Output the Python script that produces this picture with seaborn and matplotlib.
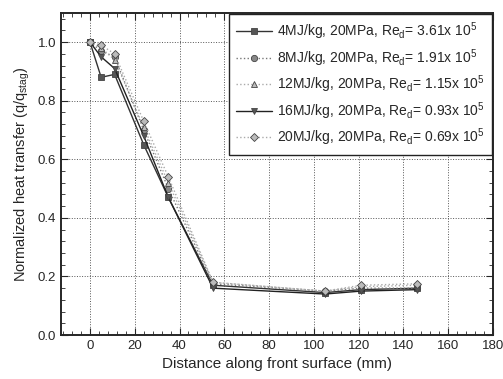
import numpy as np
import pandas as pd
import matplotlib
matplotlib.use("Agg")
import matplotlib.pyplot as plt
from matplotlib.ticker import MultipleLocator
import seaborn as sns

# Datos
distance = [0, 5, 11, 24, 35, 55, 105, 121, 146]
q_4mj = [1.0, 0.88, 0.89, 0.65, 0.47, 0.17, 0.145, 0.155, 0.16]
q_8mj = [1.0, 0.97, 0.95, 0.70, 0.50, 0.175, 0.15, 0.16, 0.16]
q_12mj = [1.0, 0.98, 0.94, 0.71, 0.52, 0.18, 0.15, 0.165, 0.17]
q_16mj = [1.0, 0.95, 0.91, 0.68, 0.47, 0.16, 0.14, 0.15, 0.155]
q_20mj = [1.0, 0.99, 0.96, 0.73, 0.54, 0.18, 0.15, 0.17, 0.175]

labels = [
    r"4MJ/kg, 20MPa, Re$_d$= 3.61x 10$^5$",
    r"8MJ/kg, 20MPa, Re$_d$= 1.91x 10$^5$",
    r"12MJ/kg, 20MPa, Re$_d$= 1.15x 10$^5$",
    r"16MJ/kg, 20MPa, Re$_d$= 0.93x 10$^5$",
    r"20MJ/kg, 20MPa, Re$_d$= 0.69x 10$^5$",
]
series = [q_4mj, q_8mj, q_12mj, q_16mj, q_20mj]

sns.set_style("ticks")
plt.rcParams['font.family'] = ['Liberation Sans', 'DejaVu Sans']
plt.rcParams['mathtext.fontset'] = 'custom'
plt.rcParams['mathtext.rm'] = 'Liberation Sans'
plt.rcParams['mathtext.it'] = 'Liberation Sans'

line_colors = ['#333333', '#777777', '#aaaaaa', '#222222', '#aaaaaa']
marker_colors = ['#555555', '#888888', '#bbbbbb', '#555555', '#bbbbbb']
dashes = ['-', ':', ':', '-', ':']
markers = ['s', 'o', '^', 'v', 'D']

fig = plt.figure(figsize=(5.03, 3.79), dpi=100)
ax = fig.add_axes([0.121, 0.116, 0.859, 0.850])

for y, lab, lc, mc, ls, mk in zip(series, labels, line_colors, marker_colors, dashes, markers):
    sns.lineplot(x=distance, y=y, ax=ax, label=lab, color=lc, linestyle=ls,
                 marker=mk, markersize=4.5, markerfacecolor=mc,
                 markeredgecolor='#444444', markeredgewidth=0.6, linewidth=1.0)

ax.set_xlim(-13, 180)
ax.set_ylim(0, 1.1)
ax.set_xticks(np.arange(0, 181, 20))
ax.set_yticks(np.arange(0, 1.01, 0.2))
ax.set_yticklabels([f"{v:.1f}" for v in np.arange(0, 1.01, 0.2)])
ax.xaxis.set_minor_locator(MultipleLocator(4))
ax.yaxis.set_minor_locator(MultipleLocator(0.04))
ax.tick_params(which='both', direction='in', top=True, right=True, labelsize=9.5)
ax.tick_params(which='major', length=5)
ax.tick_params(which='minor', length=3)
ax.grid(True, which='major', linestyle=':', color='#555555', linewidth=0.7)
for s in ax.spines.values():
    s.set_linewidth(1.4)

ax.set_xlabel("Distance along front surface (mm)", fontsize=11)
ax.set_ylabel(r"Normalized heat transfer (q/q$_{stag}$)", fontsize=10.5)

leg = ax.legend(loc='upper right', fontsize=10, frameon=True, fancybox=False,
                edgecolor='#222222', framealpha=1, borderaxespad=0.05,
                handlelength=2.6, handletextpad=0.4, labelspacing=0.35,
                borderpad=0.5)
leg.get_frame().set_linewidth(1.0)

fig.savefig("out.png", dpi=100)
